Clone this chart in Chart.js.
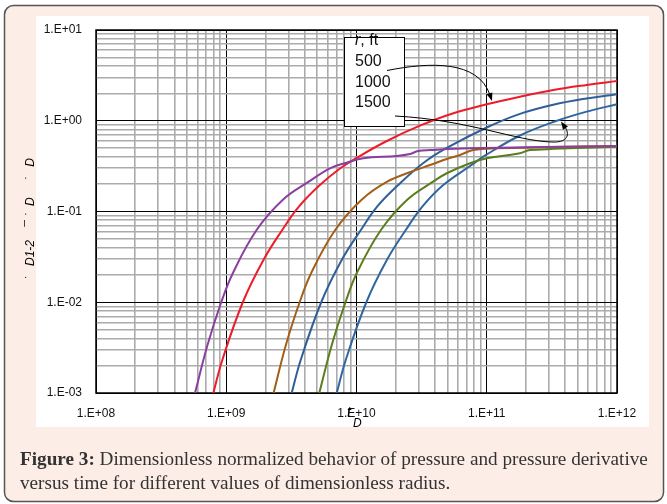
<!DOCTYPE html>
<html>
<head>
<meta charset="utf-8">
<script src="https://cdn.jsdelivr.net/npm/chart.js@4.4.0/dist/chart.umd.min.js"></script>
<style>
  html, body { margin: 0; padding: 0; background: #fff; }
  #wrap { position: relative; width: 667px; height: 504px; overflow: hidden; }
  #c { position: absolute; left: 0; top: 0; }
  #caption {
    position: absolute; left: 20px; top: 447px; width: 645px;
    font-family: 'Liberation Serif', serif; font-size: 19.2px; line-height: 24px;
    color: #333; white-space: nowrap;
  }
</style>
</head>
<body>
<div id="wrap">
  <canvas id="c" width="667" height="504"></canvas>
  <div id="caption"><b>Figure 3:</b> Dimensionless normalized behavior of pressure and pressure derivative<br>versus time for different values of dimensionless radius.</div>
</div>
<script>
// dimensionless time (x) and response (y)
const tPurple = [5.76e8, 7.18e8, 9.15e8, 1.13e9, 1.71e9, 2.71e9, 4.30e9, 6.26e9, 8.41e9, 1.13e10, 2.04e10, 2.57e10, 2.98e10, 3.67e10, 7.44e10, 1e12];
const dPurple = [0.001, 0.00338, 0.01, 0.0213, 0.0625, 0.134, 0.213, 0.299, 0.345, 0.386, 0.409, 0.430, 0.464, 0.476, 0.497, 0.527];

const tRed = [7.96e8, 9.33e8, 1.34e9, 1.93e9, 2.69e9, 3.61e9, 5.18e9, 7.47e9, 1.0e10, 1.71e10, 3.07e10, 5.54e10, 1e11, 1.80e11, 3.24e11, 5.85e11, 1e12];
const pRed = [0.001, 0.00231, 0.01, 0.0292, 0.0625, 0.113, 0.193, 0.298, 0.389, 0.598, 0.882, 1.21, 1.52, 1.84, 2.18, 2.48, 2.74];

const tBrown = [2.31e9, 2.87e9, 3.66e9, 4.51e9, 6.86e9, 1.09e10, 1.72e10, 2.73e10, 3.67e10, 4.93e10, 6.23e10, 7.88e10, 1.19e11, 1e12];
const dBrown = [0.001, 0.00338, 0.01, 0.0213, 0.0625, 0.134, 0.213, 0.280, 0.325, 0.379, 0.420, 0.476, 0.497, 0.527];

const tBlue1 = [3.18e9, 3.73e9, 5.36e9, 7.70e9, 1.08e10, 1.44e10, 2.07e10, 3.26e10, 4.93e10, 1e11, 1.80e11, 3.24e11, 5.85e11, 1e12];
const pBlue1 = [0.001, 0.00231, 0.01, 0.0292, 0.0625, 0.113, 0.193, 0.342, 0.501, 0.843, 1.19, 1.50, 1.76, 1.96];

const tGreen = [5.18e9, 6.46e9, 8.23e9, 1.01e10, 1.54e10, 2.44e10, 3.87e10, 4.93e10, 7.44e10, 1e11, 1.80e11, 2.15e11, 1e12];
const dGreen = [0.001, 0.00338, 0.01, 0.0213, 0.0625, 0.134, 0.213, 0.264, 0.340, 0.386, 0.438, 0.476, 0.518];

const tBlue2 = [7.05e9, 8.27e9, 1.19e10, 1.71e10, 2.39e10, 3.20e10, 4.59e10, 7.44e10, 1e11, 1.80e11, 3.24e11, 5.85e11, 1e12];
const pBlue2 = [0.001, 0.00231, 0.01, 0.0292, 0.0625, 0.113, 0.193, 0.317, 0.425, 0.688, 0.969, 1.26, 1.52];

const radii = ['500', '1000', '1500'];
const xDecades = [8, 12];
const yDecades = [-3, 1];

function pts(xs, ys) {
    return xs.map((x, i) => ({ x: x, y: ys[i] }));
}

function isDecade(v) {
    const e = Math.log10(v);
    return Math.abs(e - Math.round(e)) < 1e-6;
}

// every 1..9 x 10^k between the two decades, so minor grid shows
function logTicks(range) {
    const out = [];
    for (let e = range[0]; e < range[1]; e++) {
        for (let m = 1; m < 10; m++) out.push({ value: m * Math.pow(10, e) });
    }
    out.push({ value: Math.pow(10, range[1]) });
    return out;
}

function sciLabel(v) {
    if (!isDecade(v)) return '';
    const k = Math.round(Math.log10(v));
    return '1.E' + (k < 0 ? '-' : '+') + String(Math.abs(k)).padStart(2, '0');
}

const gridOpts = {
    drawTicks: false,
    color: ctx => (ctx.tick && isDecade(ctx.tick.value)) ? '#000' : '#ababab',
    lineWidth: ctx => (ctx.tick && isDecade(ctx.tick.value)) ? 1 : 1.6
};

function arrowHead(ctx, x, y, dx, dy) {
    const len = Math.hypot(dx, dy);
    const ux = dx / len, uy = dy / len;
    const L = 8, W = 3;
    ctx.beginPath();
    ctx.moveTo(x, y);
    ctx.lineTo(x - ux * L - uy * W, y - uy * L + ux * W);
    ctx.lineTo(x - ux * L + uy * W, y - uy * L - ux * W);
    ctx.closePath();
    ctx.fill();
}

const decor = {
    id: 'decor',
    beforeDraw(chart) {
        const ctx = chart.ctx;
        ctx.save();
        ctx.fillStyle = '#fff';
        ctx.fillRect(0, 0, chart.width, chart.height);
        ctx.beginPath();
        ctx.roundRect(4.5, 5.5, 659, 496, 9);
        ctx.fillStyle = '#fcede6';
        ctx.fill();
        ctx.lineWidth = 1.5;
        ctx.strokeStyle = '#555';
        ctx.stroke();
        ctx.fillStyle = '#fff';
        ctx.fillRect(36, 16, 613, 411);
        ctx.restore();
    },
    beforeDatasetsDraw(chart) {
        const ctx = chart.ctx, a = chart.chartArea;
        ctx.save();
        ctx.strokeStyle = '#000';
        ctx.lineWidth = 1.5;
        ctx.strokeRect(a.left, a.top, a.right - a.left, a.bottom - a.top);
        ctx.restore();
    },
    afterDraw(chart) {
        const ctx = chart.ctx;
        ctx.save();
        // legend box
        ctx.fillStyle = '#fff';
        ctx.fillRect(344, 37.5, 60, 89);
        ctx.strokeStyle = '#000';
        ctx.lineWidth = 1;
        ctx.strokeRect(344.5, 37.5, 60, 89);
        ctx.fillStyle = '#111';
        ctx.textBaseline = 'alphabetic';
        ctx.font = 'italic 16px "Liberation Sans"';
        ctx.fillText('r', 355, 45);
        const rw = ctx.measureText('r').width;
        ctx.font = '16px "Liberation Sans"';
        ctx.fillText(', ft', 355 + rw, 45);
        radii.forEach((r, i) => ctx.fillText(r, 355, 66 + i * 20.7));

        // arrows
        ctx.strokeStyle = '#000';
        ctx.fillStyle = '#000';
        ctx.lineWidth = 1;
        ctx.beginPath();
        ctx.moveTo(387, 70.5);
        ctx.bezierCurveTo(430, 62, 478, 60, 490, 95);
        ctx.stroke();
        arrowHead(ctx, 492, 101, 3, 9);
        ctx.beginPath();
        ctx.moveTo(395, 116);
        ctx.bezierCurveTo(470, 120, 515, 141, 552, 142);
        ctx.bezierCurveTo(571, 143, 569, 131, 564, 126);
        ctx.stroke();
        arrowHead(ctx, 561, 121.5, -4, -6);

        // axis titles
        ctx.font = 'italic 14px "Liberation Sans"';
        ctx.fillText('t', 347, 417);
        ctx.font = 'italic 12px "Liberation Sans"';
        ctx.fillText('D', 353, 427);
        ctx.translate(34, 219);
        ctx.rotate(-Math.PI / 2);
        ctx.textAlign = 'center';
        ctx.font = 'italic 12px "Liberation Sans"';
        ctx.fillText('\u02D9   D1-2    \u00AF \u02D9  D     \u02D9   D', 0, 0);
        ctx.restore();
    }
};

const lineStyle = { pointRadius: 0, borderWidth: 2, fill: false, tension: 0.4 };

new Chart(document.getElementById('c'), {
    type: 'line',
    data: {
        datasets: [
            Object.assign({ data: pts(tPurple, dPurple), borderColor: '#8a3fa0' }, lineStyle),
            Object.assign({ data: pts(tRed, pRed), borderColor: '#ee1c2a' }, lineStyle),
            Object.assign({ data: pts(tBrown, dBrown), borderColor: '#a35e17' }, lineStyle),
            Object.assign({ data: pts(tBlue1, pBlue1), borderColor: '#2f5f98' }, lineStyle),
            Object.assign({ data: pts(tGreen, dGreen), borderColor: '#5b7d1f' }, lineStyle),
            Object.assign({ data: pts(tBlue2, pBlue2), borderColor: '#2f66a0' }, lineStyle)
        ]
    },
    options: {
        responsive: false,
        animation: false,
        layout: { padding: { left: 36, top: 30, right: 50, bottom: 77 } },
        plugins: { legend: { display: false }, tooltip: { enabled: false } },
        scales: {
            x: {
                type: 'logarithmic',
                min: Math.pow(10, xDecades[0]),
                max: Math.pow(10, xDecades[1]),
                afterBuildTicks: s => { s.ticks = logTicks(xDecades); },
                afterFit: s => { s.height = 34; },
                grid: gridOpts,
                border: { display: false },
                ticks: {
                    autoSkip: false, maxRotation: 0, padding: 13,
                    color: '#111', font: { family: 'Liberation Sans', size: 12 },
                    callback: v => sciLabel(v)
                }
            },
            y: {
                type: 'logarithmic',
                min: Math.pow(10, yDecades[0]),
                max: Math.pow(10, yDecades[1]),
                afterBuildTicks: s => { s.ticks = logTicks(yDecades); },
                afterFit: s => { s.width = 60; },
                grid: gridOpts,
                border: { display: false },
                ticks: {
                    autoSkip: false, padding: 14,
                    color: '#111', font: { family: 'Liberation Sans', size: 12 },
                    callback: v => sciLabel(v)
                }
            }
        }
    },
    plugins: [decor]
});
</script>
</body>
</html>
